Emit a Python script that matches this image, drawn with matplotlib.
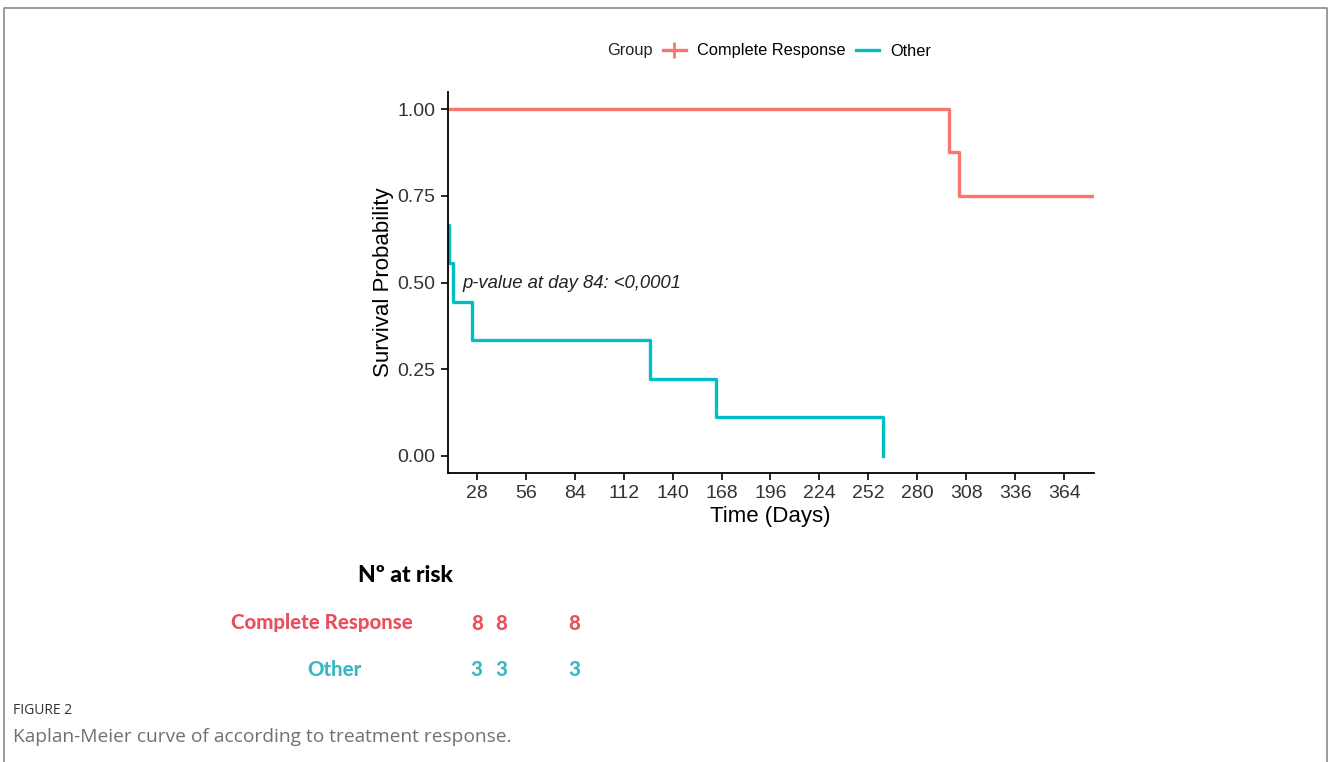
import numpy as np
import matplotlib
matplotlib.use("Agg")
import matplotlib.pyplot as plt
import matplotlib.transforms as mtransforms
from matplotlib.lines import Line2D

# survival curves (days, survival probability), step "post"
cr_days = [0, 298, 304, 381]
cr_surv = [1.0, 0.875, 0.75, 0.75]
other_days = [0, 12.2, 14.5, 25.5, 127.2, 165, 260.4]
other_surv = [0.667, 0.556, 0.444, 0.333, 0.222, 0.111, 0.0]

groups = ["Complete Response", "Other"]
line_colors = ["#F8766D", "#00BFC4"]
table_colors = ["#E8505E", "#38B8C2"]

x_ticks = [28, 56, 84, 112, 140, 168, 196, 224, 252, 280, 308, 336, 364]
y_ticks = [0.0, 0.25, 0.5, 0.75, 1.0]

risk_days = [28, 42, 84]
risk_counts = {"Complete Response": [8, 8, 8], "Other": [3, 3, 3]}

plt.rcParams["font.family"] = ["Liberation Sans", "DejaVu Sans"]

fig = plt.figure(figsize=(13.28, 7.62), dpi=100)
ax = fig.add_axes([447.5 / 1328, 1 - 473 / 762, (1094 - 447.5) / 1328, (473 - 92) / 762])

ax.step(cr_days, cr_surv, where="post", color=line_colors[0], lw=2.4)
ax.step(other_days, other_surv, where="post", color=line_colors[1], lw=2.4)

ax.set_xlim(11.3, 381)
ax.set_ylim(-0.049, 1.049)
ax.set_xticks(x_ticks)
ax.set_yticks(y_ticks)
ax.set_yticklabels(["%.2f" % v for v in y_ticks])
for s in ["top", "right"]:
    ax.spines[s].set_visible(False)
for s in ["left", "bottom"]:
    ax.spines[s].set_linewidth(1.3)
ax.tick_params(labelsize=14, colors="black", labelcolor="#333333", length=5, width=1.2)
ax.set_xlabel("Time (Days)", fontsize=16, labelpad=3)
ax.set_ylabel("Survival Probability", fontsize=16, labelpad=3)

ax.text(19.6, 0.496, "p-value at day 84: <0,0001", fontsize=13.3, style="italic",
        color="#222222", va="center", ha="left")

# legend, horizontal with "Group" title
fig.text(607 / 1328, 1 - 50 / 762, "Group", fontsize=11.8, color="#222222", va="center", ha="left")
handles = [Line2D([], [], color=line_colors[0], lw=2.4, marker="+", markersize=11, mew=2),
           Line2D([], [], color=line_colors[1], lw=2.4)]
fig.legend(handles, groups, loc="center left", bbox_to_anchor=(663 / 1328, 1 - 51 / 762),
           ncol=2, frameon=False, fontsize=11.8, handlelength=1.4, handletextpad=0.7,
           columnspacing=0.6, borderpad=0, borderaxespad=0)

# number at risk table
tfont = ["Lato", "DejaVu Sans"]
trans = mtransforms.blended_transform_factory(ax.transData, fig.transFigure)
fig.text(405 / 1328, 1 - 575 / 762, "Nº at risk", fontsize=16.5, fontweight=900,
         family=tfont, ha="center", va="center", color="black")
row_y = [1 - 623 / 762, 1 - 670 / 762]
fig.text(413 / 1328, row_y[0], groups[0], fontsize=14.7, fontweight=900,
         family=tfont, ha="right", va="center", color=table_colors[0])
fig.text(335 / 1328, row_y[1], groups[1], fontsize=14.7, fontweight=900,
         family=tfont, ha="center", va="center", color=table_colors[1])
for g, yy, c in zip(groups, row_y, table_colors):
    for d, n in zip(risk_days, risk_counts[g]):
        ax.text(d, yy, str(n), transform=trans, fontsize=14.7, fontweight=900,
                family=tfont, ha="center", va="center", color=c, clip_on=False)

# caption
cfont = ["Open Sans", "DejaVu Sans"]
fig.text(13 / 1328, 1 - 711 / 762, "FIGURE 2", fontsize=10, family=cfont,
         color="#333333", va="center", ha="left")
fig.text(13 / 1328, 1 - 737 / 762, "Kaplan-Meier curve of according to treatment response.",
         fontsize=13.8, family=cfont, color="#707070", va="center", ha="left")

# page frame
frame_x = [4 / 1328, 4 / 1328, 1326.5 / 1328, 1326.5 / 1328]
frame_y = [-0.01, 1 - 8 / 762, 1 - 8 / 762, -0.01]
fig.add_artist(Line2D(frame_x, frame_y, transform=fig.transFigure, color="#8a8a8a", lw=1.2))

fig.savefig("out.png", dpi=100)
